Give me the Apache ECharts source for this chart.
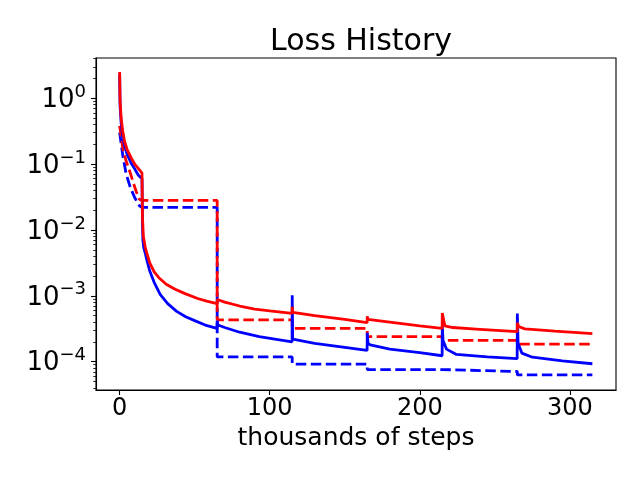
<!DOCTYPE html>
<html>
<head>
<meta charset="utf-8">
<script src="https://cdn.jsdelivr.net/npm/echarts@6/dist/echarts.min.js"></script>
<style>
  html, body { margin: 0; padding: 0; background: #fff; }
  #chart { width: 640px; height: 480px; }
</style>
</head>
<body>
<div id="chart"></div>
<script>
// thousands of steps / loss values
var redSolidX = [0, 0.3, 1, 2, 3.3, 5, 7.8, 10, 12, 14.9, 15.2, 15.8, 17, 18, 20, 23, 26, 31, 37, 44, 52, 58, 64.9, 65.1, 70, 80, 90, 100, 114.9, 115, 115.4, 130, 150, 164.9, 165, 165.4, 180, 200, 214.9, 215, 216.7, 222, 240, 264.9, 265, 266, 270, 290, 315];
var redSolidY = [2.5, 0.9, 0.5, 0.32, 0.22, 0.165, 0.123, 0.1, 0.088, 0.073, 0.016, 0.008, 0.0056, 0.0045, 0.0032, 0.0023, 0.0019, 0.0015, 0.00126, 0.00107, 0.00091, 0.00083, 0.00076, 0.00088, 0.0008, 0.0007, 0.00063, 0.00059, 0.00054, 0.00068, 0.00056, 0.0005, 0.00044, 0.00039, 0.00049, 0.00044, 0.0004, 0.00035, 0.00032, 0.00055, 0.00035, 0.00033, 0.00031, 0.000285, 0.00039, 0.00034, 0.000315, 0.00029, 0.000267];

var blueSolidX = [0, 0.3, 1, 2, 3.3, 5, 8, 10, 12.2, 14.9, 15.2, 15.5, 16, 17, 18, 20, 23, 27, 32, 38, 44, 50, 57, 64.9, 65, 65.5, 70, 80, 93, 114.9, 115, 115.3, 130, 150, 164.9, 165, 165.5, 167, 180, 200, 214.9, 215, 215.5, 217.8, 224.4, 245, 264.9, 265, 265.5, 268, 275, 295, 315];
var blueSolidY = [2.3, 0.75, 0.42, 0.27, 0.19, 0.14, 0.1, 0.085, 0.069, 0.06, 0.013, 0.007, 0.0055, 0.0045, 0.0036, 0.0024, 0.0016, 0.00105, 0.00076, 0.00058, 0.00048, 0.00042, 0.00036, 0.00032, 0.00042, 0.00036, 0.00033, 0.00028, 0.00024, 0.0002, 0.00102, 0.00022, 0.00019, 0.000165, 0.000148, 0.000275, 0.00019, 0.00018, 0.000155, 0.000137, 0.000123, 0.00035, 0.00021, 0.000155, 0.000129, 0.000118, 0.000111, 0.00054, 0.00019, 0.000135, 0.000117, 0.000103, 0.000093];

var redDashX = [0, 2.2, 4.4, 6.7, 9, 11.1, 13.3, 15, 65, 65, 115, 115, 165, 165, 215, 215, 265, 265, 315];
var redDashY = [0.38, 0.17, 0.11, 0.078, 0.053, 0.038, 0.029, 0.028, 0.028, 0.00043, 0.00043, 0.00032, 0.00032, 0.00024, 0.00024, 0.00021, 0.00021, 0.000185, 0.000185];

var blueDashX = [0, 2.2, 4.4, 7, 10, 13.3, 15, 65, 65, 115, 115, 165, 165, 215, 215, 265, 265, 315];
var blueDashY = [0.3, 0.13, 0.07, 0.045, 0.031, 0.023, 0.022, 0.022, 0.000118, 0.000118, 0.000092, 0.000092, 0.000076, 0.000076, 0.000071, 0.000071, 0.000063, 0.000063];

var xTicks = [0, 100, 200, 300];
var yDecades = [-4, -3, -2, -1, 0];
var minorMult = [2, 3, 4, 5, 6, 7, 8, 9];

var yMin = -4.43, yMax = 0.61;

function toPoints(xs, ys) {
	var out = [];
	for (var i = 0; i < xs.length; i++) {
		out.push([xs[i], Math.log10(ys[i])]);
	}
	return out;
}

// minor ticks at 2..9 x 10^n, in log10 space
var minorTicks = [];
for (var n = -5; n <= 0; n++) {
	for (var k = 0; k < minorMult.length; k++) {
		var v = n + Math.log10(minorMult[k]);
		if (v > yMin && v < yMax) minorTicks.push(v);
	}
}

var chart = echarts.init(document.getElementById('chart'), null, { renderer: 'canvas' });
var font = 'DejaVu Sans';

var option = {
	animation: false,
	backgroundColor: '#fff',
	title: {
		text: 'Loss History',
		left: 356,
		top: 22,
		textAlign: 'center',
		textStyle: { fontFamily: font, fontSize: 30, fontWeight: 'normal', color: '#000' }
	},
	grid: {
		left: 96, right: 24, top: 58, bottom: 90,
		show: true, borderColor: '#000', borderWidth: 1.1, backgroundColor: 'transparent'
	},
	xAxis: {
		type: 'value',
		min: -15.75,
		max: 330.75,
		name: 'thousands of steps',
		nameLocation: 'middle',
		nameGap: 33,
		nameTextStyle: { fontFamily: font, fontSize: 25, color: '#000' },
		axisLine: { show: true, onZero: false, lineStyle: { color: '#000', width: 1.1 } },
		axisTick: { show: true, length: 5, customValues: xTicks, lineStyle: { color: '#000', width: 1.1 } },
		axisLabel: { customValues: xTicks, margin: 7, fontFamily: font, fontSize: 24, color: '#000' },
		splitLine: { show: false }
	},
	yAxis: [{
		type: 'value',
		position: 'left',
		min: yMin,
		max: yMax,
		axisLine: { show: true, onZero: false, lineStyle: { color: '#000', width: 1.1 } },
		axisTick: { show: true, length: 5, customValues: yDecades, lineStyle: { color: '#000', width: 1.1 } },
		axisLabel: {
			customValues: yDecades,
			margin: 10,
			formatter: function (v) {
				var e = Math.round(v);
				return '{b|10}{s|' + (e < 0 ? '\u2212' + (-e) : e) + '}';
			},
			rich: {
				b: { fontFamily: font, fontSize: 26, color: '#000', lineHeight: 30, verticalAlign: 'bottom' },
				s: { fontFamily: font, fontSize: 18, color: '#000', lineHeight: 18, verticalAlign: 'top' }
			}
		},
		splitLine: { show: false }
	}, {
		type: 'value',
		position: 'left',
		min: yMin,
		max: yMax,
		axisLine: { show: false, onZero: false },
		axisTick: { show: true, length: 2.8, customValues: minorTicks, lineStyle: { color: '#000', width: 0.8 } },
		axisLabel: { show: false },
		splitLine: { show: false }
	}],
	series: [{
		type: 'line', name: 'blue dashed', showSymbol: false,
		data: toPoints(blueDashX, blueDashY),
		lineStyle: { color: '#0000ff', width: 2.8, type: [10.5, 4.5] }
	}, {
		type: 'line', name: 'red dashed', showSymbol: false,
		data: toPoints(redDashX, redDashY),
		lineStyle: { color: '#ff0000', width: 2.8, type: [10.5, 4.5] }
	}, {
		type: 'line', name: 'blue solid', showSymbol: false,
		data: toPoints(blueSolidX, blueSolidY),
		lineStyle: { color: '#0000ff', width: 2.8 }
	}, {
		type: 'line', name: 'red solid', showSymbol: false,
		data: toPoints(redSolidX, redSolidY),
		lineStyle: { color: '#ff0000', width: 2.8 }
	}]
};
chart.setOption(option);
window.onresize = function () {
	chart.resize();
};
</script>
</body>
</html>
